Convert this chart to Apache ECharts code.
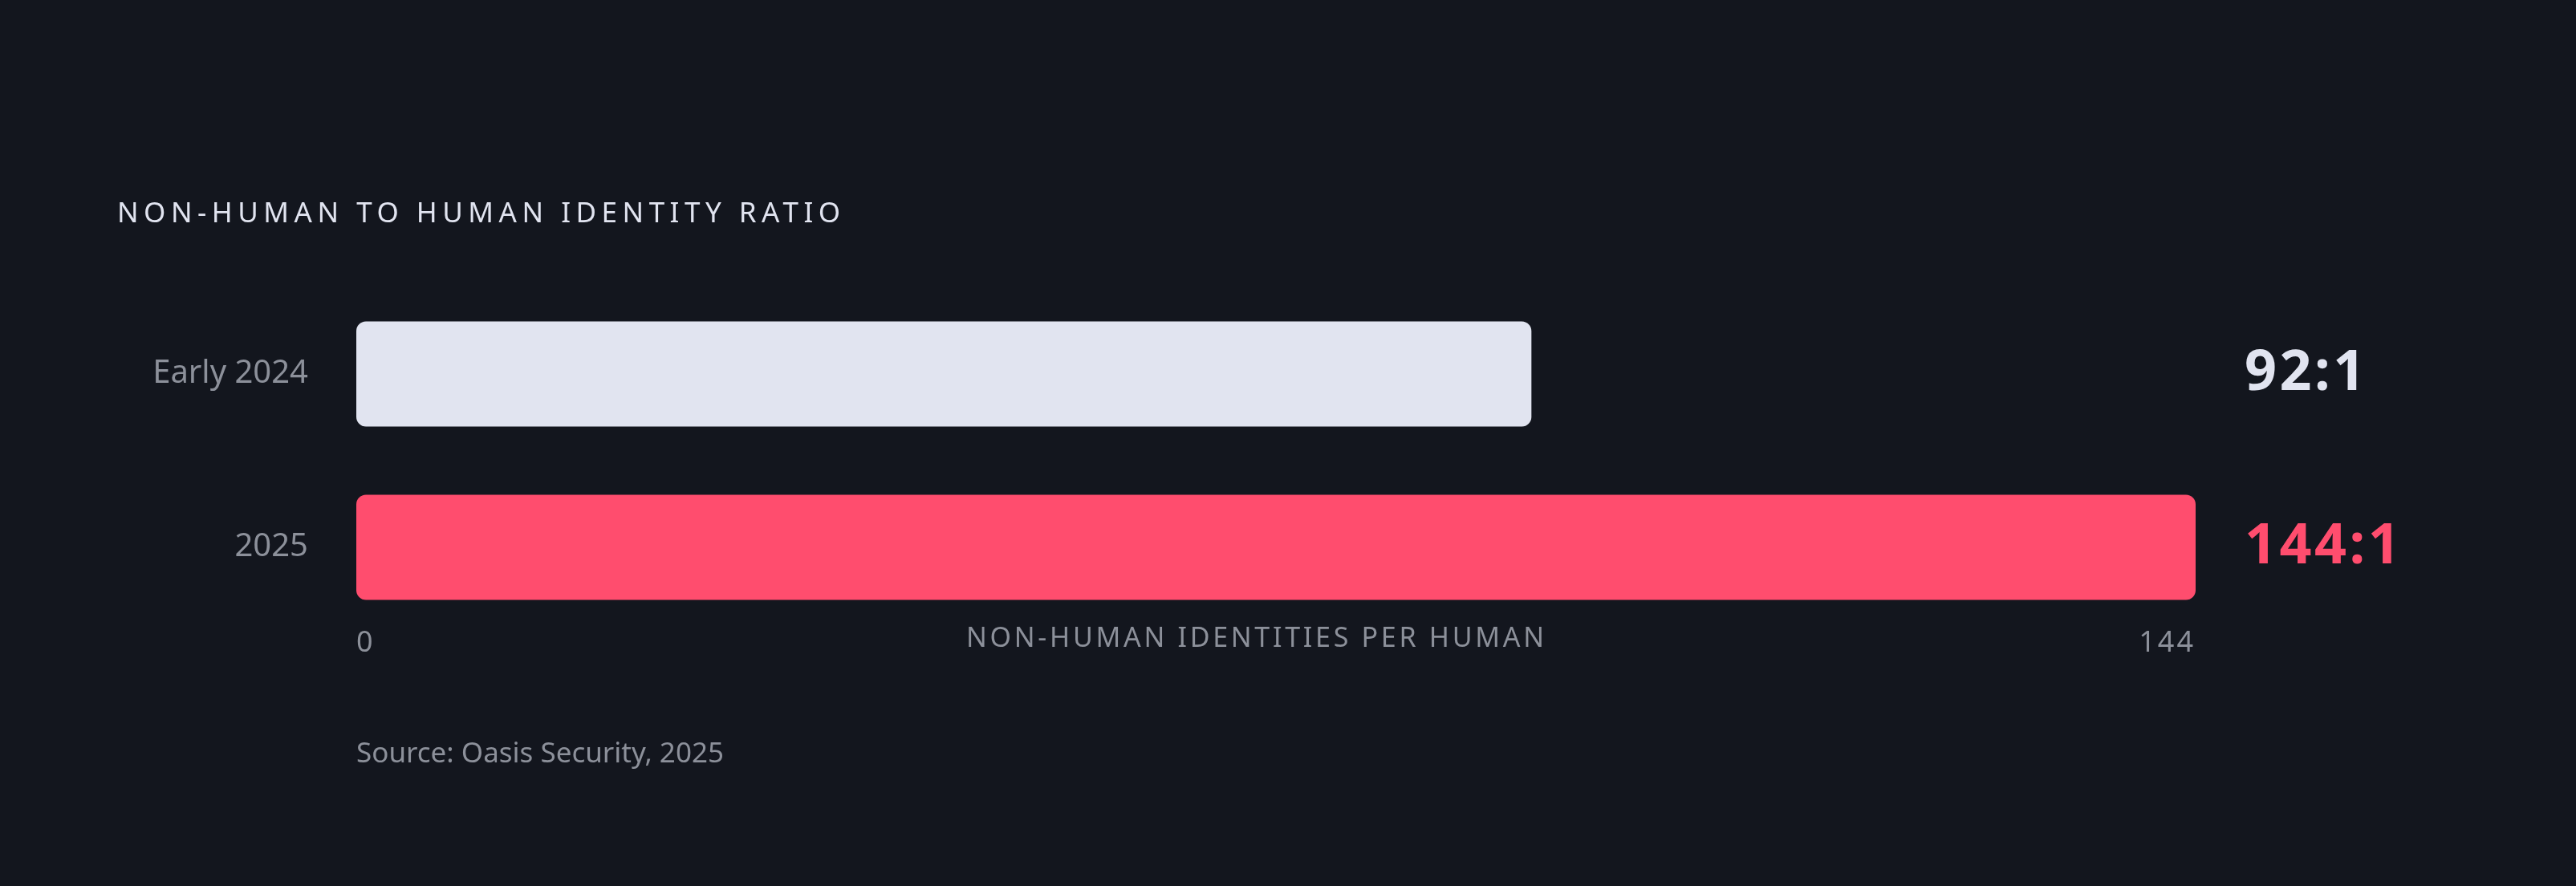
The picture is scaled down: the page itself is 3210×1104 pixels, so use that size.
<!DOCTYPE html>
<html>
<head>
<meta charset="utf-8">
<script src="https://cdn.jsdelivr.net/npm/echarts@6/dist/echarts.min.js"></script>
<style>
html,body{margin:0;padding:0;background:#13161e;}
#chart{width:3210px;height:1104px;}
</style>
</head>
<body>
<div id="chart"></div>
<script>
// ---- data ----
const categories = ['Early 2024', '2025'];
const ratios = [92, 144];
const xTicks = [0, 144];
const titleText = 'NON-HUMAN TO HUMAN IDENTITY RATIO';
const axisTitle = 'NON-HUMAN IDENTITIES PER HUMAN';
const sourceText = 'Source: Oasis Security, 2025';

// ---- styles ----
const barColors = ['#e1e4f0', '#ff4d6e'];
const greyText = '#8c909a';
const FONT = 'Noto Sans';

const ratioLabels = ratios.map(v => v + ':1');

// letter-spacing for tracked texts (keyed by text content)
const tracking = {};
tracking[titleText] = 6.5;
tracking[axisTitle] = 3.7;
xTicks.forEach(t => { tracking[String(t)] = 3; });
ratioLabels.forEach(t => { tracking[t] = 3.5; });
(function () {
  const proto = CanvasRenderingContext2D.prototype;
  const orig = proto.fillText;
  proto.fillText = function (t, x, y, m) {
    const ls = tracking[t];
    const hasLS = 'letterSpacing' in this;
    const prev = hasLS ? this.letterSpacing : null;
    if (hasLS) this.letterSpacing = ls ? ls + 'px' : '0px';
    const r = m === undefined ? orig.call(this, t, x, y) : orig.call(this, t, x, y, m);
    if (hasLS) this.letterSpacing = prev;
    return r;
  };
})();

const chart = echarts.init(document.getElementById('chart'));
chart.setOption({
  backgroundColor: '#13161e',
  animation: false,
  textStyle: { fontFamily: FONT },
  title: {
    text: titleText,
    left: 141,
    top: 245,
    textStyle: { color: '#e1e4f0', fontSize: 35, fontWeight: 'normal', fontFamily: FONT }
  },
  grid: { left: 444, right: 474, top: 358, bottom: 314, containLabel: false },
  xAxis: {
    type: 'value',
    min: xTicks[0],
    max: xTicks[xTicks.length - 1],
    interval: xTicks[1] - xTicks[0],
    splitLine: { show: false },
    axisLine: { show: false },
    axisTick: { show: false },
    axisLabel: {
      color: greyText,
      fontSize: 36,
      verticalAlign: 'middle',
      margin: 12,
      alignMinLabel: 'left',
      alignMaxLabel: 'right',
      fontFamily: FONT
    }
  },
  yAxis: [
    {
      type: 'category',
      data: categories,
      inverse: true,
      axisLine: { show: false },
      axisTick: { show: false },
      axisLabel: { color: greyText, fontSize: 40, margin: 60, fontFamily: FONT }
    },
    {
      type: 'category',
      position: 'right',
      data: ratioLabels,
      inverse: true,
      axisLine: { show: false },
      axisTick: { show: false },
      axisLabel: {
        margin: 61,
        align: 'left',
        formatter: (v, i) => '{c' + i + '|' + v + '}',
        rich: {
          c0: { color: barColors[0], fontSize: 70, fontWeight: 'bold', fontFamily: FONT },
          c1: { color: barColors[1], fontSize: 70, fontWeight: 'bold', fontFamily: FONT }
        }
      }
    }
  ],
  series: [{
    type: 'bar',
    yAxisIndex: 0,
    barWidth: 131,
    data: ratios.map((v, i) => ({ value: v, itemStyle: { color: barColors[i] } })),
    itemStyle: { borderRadius: 12 }
  }],
  graphic: [
    {
      type: 'text',
      left: 1204,
      top: 802 - 23,
      style: { text: axisTitle, fill: greyText, fontSize: 34, fontFamily: FONT }
    },
    {
      type: 'text',
      left: 444,
      top: 923,
      style: { text: sourceText, fill: greyText, fontSize: 35, fontFamily: FONT }
    }
  ]
});
</script>
</body>
</html>
